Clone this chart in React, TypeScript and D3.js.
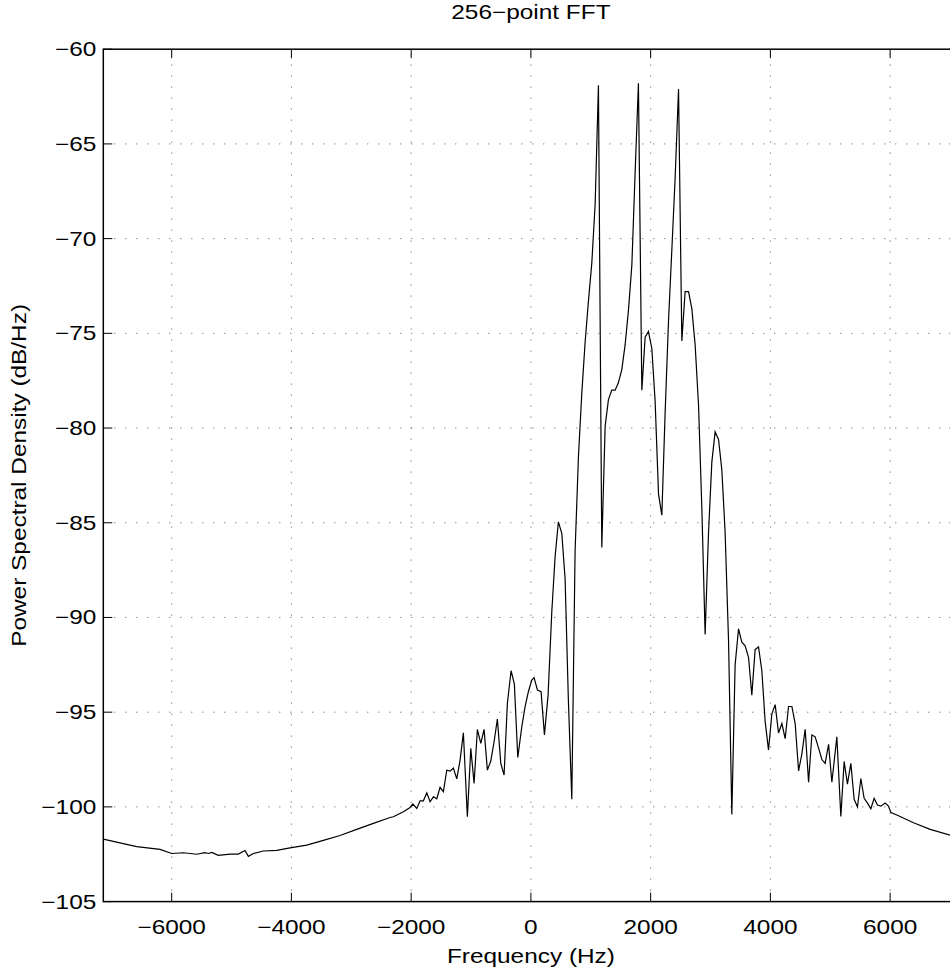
import React from "react";
import * as d3 from "d3";

const title = "256\u2212point FFT";
const xLabel = "Frequency (Hz)";
const yLabel = "Power Spectral Density (dB/Hz)";
const xTicks = [-6000, -4000, -2000, 0, 2000, 4000, 6000];
const yTicks = [-105, -100, -95, -90, -85, -80, -75, -70, -65, -60];
const xDomain = [-7142, 7142];
const yDomain = [-105, -60];

const freqHz = [
  -7142, -6584, -6195, -5999, -5805, -5581, -5443, -5388, -5331, -5221, -5025, -4887, -4775, -4719, -4636,
  -4469, -4245, -4023, -3744, -3466, -3188, -2909, -2631, -2352, -2297, -2130, -2018, -1973, -1906, -1851,
  -1796, -1739, -1684, -1629, -1572, -1517, -1462, -1405, -1350, -1295, -1238, -1183, -1128, -1061, -1004,
  -949, -894, -837, -782, -727, -670, -615, -560, -503, -448, -393, -331, -276, -219, -152,
  -97, -42, 15, 53, 109, 170, 226, 287, 349, 404, 459, 516, 571, 626, 683,
  738, 794, 850, 905, 961, 1017, 1073, 1128, 1184, 1240, 1295, 1351, 1407, 1462, 1519,
  1574, 1629, 1686, 1741, 1796, 1853, 1908, 1963, 2020, 2075, 2132, 2187, 2242, 2299, 2354,
  2409, 2466, 2521, 2576, 2633, 2688, 2743, 2800, 2855, 2910, 2967, 3022, 3077, 3134, 3189,
  3244, 3301, 3356, 3411, 3468, 3523, 3578, 3635, 3690, 3745, 3802, 3857, 3913, 3969, 4024,
  4080, 4136, 4192, 4247, 4303, 4359, 4414, 4471, 4526, 4581, 4638, 4693, 4748, 4805, 4860,
  4915, 4972, 5027, 5110, 5177, 5232, 5287, 5344, 5399, 5455, 5511, 5566, 5622, 5678, 5733,
  5789, 5845, 5917, 5972, 6013, 6113, 6390, 6669, 7003, 7142,
];

const psdDb = [
  -101.7, -102.1, -102.24, -102.46, -102.42, -102.5, -102.42, -102.46, -102.4, -102.56, -102.49, -102.49, -102.3, -102.61, -102.46,
  -102.33, -102.3, -102.16, -102.02, -101.77, -101.51, -101.19, -100.87, -100.56, -100.52, -100.26, -100.03, -99.85, -100.08, -99.68,
  -99.68, -99.26, -99.73, -99.47, -99.57, -98.97, -99.2, -98.06, -98.11, -97.95, -98.52, -97.53, -96.09, -100.52, -96.91,
  -98.76, -95.91, -96.65, -95.91, -98.06, -97.58, -96.56, -95.36, -97.7, -98.32, -94.54, -92.81, -93.52, -97.39, -95.77,
  -94.71, -93.92, -93.31, -93.18, -93.83, -93.92, -96.2, -94.1, -89.7, -86.8, -84.95, -85.56, -87.94, -94.36, -99.6,
  -86.5, -81.52, -78.17, -75.5, -73.3, -71.3, -68.2, -61.9, -86.3, -79.9, -78.5, -78.0, -78.0, -77.6, -76.9,
  -75.6, -73.8, -71.4, -66.5, -61.8, -78.0, -75.2, -74.9, -75.8, -78.6, -83.5, -84.6, -79.2, -74.3, -70.6,
  -66.8, -62.1, -75.4, -72.8, -72.8, -73.7, -75.6, -78.8, -84.2, -90.9, -85.5, -81.8, -80.2, -80.6, -82.2,
  -85.5, -91.2, -100.4, -92.5, -90.6, -91.3, -91.5, -92.1, -94.1, -91.7, -91.55, -92.8, -95.5, -97.0, -95.1,
  -94.6, -96.1, -95.6, -96.4, -94.7, -94.7, -95.6, -98.1, -97.2, -95.9, -98.7, -96.2, -96.3, -96.9, -97.5,
  -97.7, -96.7, -98.7, -96.3, -100.5, -97.6, -98.8, -97.7, -99.6, -100.0, -98.5, -99.55, -99.8, -100.1, -99.55,
  -99.9, -99.96, -99.8, -99.96, -100.3, -100.43, -100.84, -101.19, -101.49, -101.65,
];

const W = 950;
const H = 971;
const left = 103.3;
const right = 958.5;
const top = 49.2;
const bottom = 901.6;
const FONT = "'Liberation Sans', Arial, Helvetica, sans-serif";
const TICK = 9;
const FS = 20;
const STRETCH = 1.22;

function T({
  x,
  y,
  anchor,
  rotate = 0,
  children,
}: {
  x: number;
  y: number;
  anchor: "start" | "middle" | "end";
  rotate?: number;
  children: React.ReactNode;
}) {
  return (
    <g transform={`translate(${x},${y}) rotate(${rotate}) scale(${STRETCH},1)`}>
      <text x={0} y={0} textAnchor={anchor} fontSize={FS} fill="#000">
        {children}
      </text>
    </g>
  );
}

export default function App() {
  const x = d3.scaleLinear().domain(xDomain).range([left, right]);
  const y = d3.scaleLinear().domain(yDomain).range([bottom, top]);
  const pts = freqHz.map((f, i) => [f, psdDb[i]] as [number, number]);
  const line = d3
    .line<[number, number]>()
    .x((d) => x(d[0]))
    .y((d) => y(d[1]));
  const fmt = (v: number) => (v < 0 ? "\u2212" + Math.abs(v) : String(v));

  return (
    <svg
      width={W}
      height={H}
      style={{ position: "absolute", left: 0, top: 0, background: "#fff" }}
      fontFamily={FONT}
    >
      <rect x={0} y={0} width={W} height={H} fill="#fff" />
      <defs>
        <clipPath id="plotclip">
          <rect x={left} y={top} width={right - left} height={bottom - top} />
        </clipPath>
      </defs>
      <g stroke="#555" strokeWidth={1} strokeDasharray="1 10">
        {xTicks.map((t) => (
          <line key={"gx" + t} x1={x(t)} x2={x(t)} y1={bottom} y2={top} />
        ))}
        {yTicks
          .filter((t) => t !== yDomain[0] && t !== yDomain[1])
          .map((t) => (
            <line key={"gy" + t} x1={left} x2={right} y1={y(t)} y2={y(t)} />
          ))}
      </g>
      <path
        d={line(pts) || ""}
        fill="none"
        stroke="#000"
        strokeWidth={1.2}
        clipPath="url(#plotclip)"
      />
      <g stroke="#000" strokeWidth={1}>
        {xTicks.map((t) => (
          <g key={"tx" + t}>
            <line x1={x(t)} x2={x(t)} y1={bottom} y2={bottom - TICK} />
            <line x1={x(t)} x2={x(t)} y1={top} y2={top + TICK} />
          </g>
        ))}
        {yTicks.map((t) => (
          <g key={"ty" + t}>
            <line x1={left} x2={left + TICK} y1={y(t)} y2={y(t)} />
            <line x1={right} x2={right - TICK} y1={y(t)} y2={y(t)} />
          </g>
        ))}
      </g>
      <rect
        x={left}
        y={top}
        width={right - left}
        height={bottom - top}
        fill="none"
        stroke="#000"
        strokeWidth={1.5}
      />
      {xTicks.map((t) => (
        <T key={"lx" + t} x={x(t)} y={934} anchor="middle">
          {fmt(t)}
        </T>
      ))}
      {yTicks.map((t) => (
        <T key={"ly" + t} x={left - 7} y={y(t) + 7} anchor="end">
          {fmt(t)}
        </T>
      ))}
      <T x={(left + right) / 2} y={963} anchor="middle">
        {xLabel}
      </T>
      <T x={26} y={(top + bottom) / 2} anchor="middle" rotate={-90}>
        {yLabel}
      </T>
      <T x={(left + right) / 2} y={19} anchor="middle">
        {title}
      </T>
    </svg>
  );
}
